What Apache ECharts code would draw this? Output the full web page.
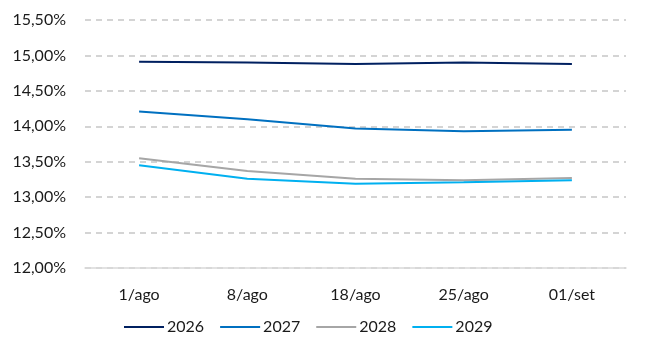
<!DOCTYPE html>
<html><head><meta charset="utf-8">
<script src="https://cdn.jsdelivr.net/npm/echarts@6/dist/echarts.min.js"></script>
<style>html,body{margin:0;padding:0;background:#fff}#c{width:648px;height:352px}</style>
</head><body><div id="c"></div>
<script>
const categories = ['1/ago', '8/ago', '18/ago', '25/ago', '01/set'];
const s2026 = [14.91, 14.90, 14.88, 14.90, 14.88];
const s2027 = [14.21, 14.10, 13.97, 13.93, 13.95];
const s2028 = [13.55, 13.37, 13.26, 13.24, 13.27];
const s2029 = [13.45, 13.26, 13.19, 13.21, 13.24];
const seriesNames = ['2026', '2027', '2028', '2029'];
const colors = ['#002060', '#0070C0', '#A6A6A6', '#00B0F0'];
const yTicks = { min: 12, max: 15.5, interval: 0.5 };

const data = [s2026, s2027, s2028, s2029];
const chart = echarts.init(document.getElementById('c'), null, { renderer: 'canvas' });
chart.setOption({
  animation: false,
  textStyle: { fontFamily: 'Lato' },
  grid: { left: 85, right: 22, top: 20, bottom: 84 },
  legend: {
    left: 119, top: 314,
    itemWidth: 40, itemHeight: 2, itemGap: 16,
    icon: 'rect',
    textStyle: { fontSize: 16, color: '#1a1a1a', fontFamily: 'Lato', padding: [0, 0, 0, -2] },
    data: seriesNames
  },
  xAxis: {
    type: 'category', data: categories, boundaryGap: true,
    axisLine: { lineStyle: { color: '#d9d9d9', width: 1.5 } },
    axisTick: { show: false },
    axisLabel: { fontSize: 16, color: '#1a1a1a', margin: 19, fontFamily: 'Lato' }
  },
  yAxis: {
    type: 'value', min: yTicks.min, max: yTicks.max, interval: yTicks.interval,
    axisLine: { show: false }, axisTick: { show: false },
    axisLabel: { fontSize: 16, color: '#1a1a1a', margin: 19, fontFamily: 'Lato',
      formatter: v => v.toFixed(2).replace('.', ',') + '%' },
    splitLine: { lineStyle: { color: '#d4d4d4', type: [6, 5], width: 2 } }
  },
  series: seriesNames.map((n, i) => ({
    name: n, type: 'line', data: data[i], symbol: 'none',
    lineStyle: { color: colors[i], width: 2 }, itemStyle: { color: colors[i] }
  }))
});
</script></body></html>
